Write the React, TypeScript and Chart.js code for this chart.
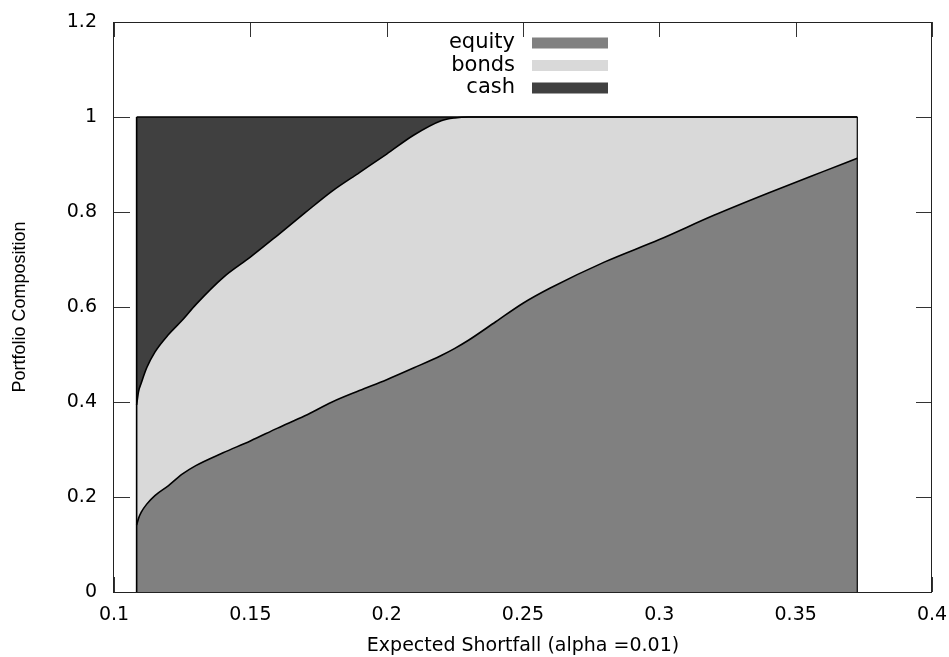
import React, { useEffect, useRef } from "react";
import { Chart, registerables } from "chart.js";

Chart.register(...registerables);

// Expected shortfall (x) sample positions
const xs = [0.1083, 0.109, 0.11, 0.112, 0.115, 0.12, 0.125, 0.13, 0.14, 0.15, 0.16, 0.17, 0.18, 0.19, 0.2, 0.21, 0.22, 0.225, 0.23, 0.24, 0.25, 0.26, 0.28, 0.3, 0.32, 0.34, 0.36, 0.3726];
// Portfolio shares
const equity = [0.141, 0.155, 0.168, 0.185, 0.203, 0.224, 0.248, 0.266, 0.293, 0.318, 0.345, 0.371, 0.4, 0.424, 0.447, 0.472, 0.498, 0.513, 0.53, 0.569, 0.608, 0.64, 0.695, 0.742, 0.793, 0.84, 0.885, 0.913];
const bonds = [0.253, 0.267, 0.272, 0.287, 0.302, 0.318, 0.324, 0.339, 0.369, 0.387, 0.406, 0.427, 0.444, 0.459, 0.475, 0.49, 0.494, 0.485, 0.47, 0.431, 0.392, 0.36, 0.305, 0.258, 0.207, 0.16, 0.115, 0.087];
const cash = [0.606, 0.578, 0.56, 0.528, 0.495, 0.458, 0.428, 0.395, 0.338, 0.295, 0.249, 0.202, 0.156, 0.117, 0.078, 0.038, 0.008, 0.002, 0, 0, 0, 0, 0, 0, 0, 0, 0, 0];

const seriesLabels = ["equity", "bonds", "cash"];
const seriesColors = ["#808080", "#d9d9d9", "#404040"];

const xTickValues = [0.1, 0.15, 0.2, 0.25, 0.3, 0.35, 0.4];
const xTickLabels = ["0.1", "0.15", "0.2", "0.25", "0.3", "0.35", "0.4"];
const yTickValues = [0, 0.2, 0.4, 0.6, 0.8, 1, 1.2];
const yTickLabels = ["0", "0.2", "0.4", "0.6", "0.8", "1", "1.2"];

const xTitle = "Expected Shortfall (alpha =0.01)";
const yTitle = "Portfolio Composition";

const FONT = "'DejaVu Sans', sans-serif";

const ticksPlugin = {
  id: "gnuTicks",
  beforeDraw(chart: any) {
    const { ctx, chartArea, scales } = chart;
    const { left, right, top, bottom } = chartArea;
    ctx.save();
    ctx.strokeStyle = "#333333";
    ctx.lineWidth = 1;
    ctx.beginPath();
    xTickValues.forEach((v) => {
      const px = Math.round(scales.x.getPixelForValue(v)) + 0.5;
      ctx.moveTo(px, bottom);
      ctx.lineTo(px, bottom - 15);
      ctx.moveTo(px, top);
      ctx.lineTo(px, top + 15);
    });
    yTickValues.forEach((v) => {
      const py = Math.round(scales.y.getPixelForValue(v)) + 0.5;
      ctx.moveTo(left, py);
      ctx.lineTo(left + 16, py);
      ctx.moveTo(right, py);
      ctx.lineTo(right - 16, py);
    });
    ctx.stroke();
    ctx.restore();
  },
  afterDatasetsDraw(chart: any) {
    const { ctx, chartArea } = chart;
    const { left, right, top, bottom } = chartArea;
    ctx.save();
    ctx.strokeStyle = "#222222";
    ctx.lineWidth = 1;
    ctx.strokeRect(Math.round(left) - 0.5, Math.round(top) + 0.5, Math.round(right - left), Math.round(bottom - top));
    ctx.restore();
  },
  afterDraw(chart: any) {
    const { ctx } = chart;
    ctx.save();
    ctx.font = `21px ${FONT}`;
    ctx.textAlign = "right";
    ctx.textBaseline = "middle";
    ctx.fillStyle = "#000000";
    for (let i = 0; i < seriesLabels.length; i++) {
      const cy = 43 + i * 22.5;
      ctx.fillText(seriesLabels[i], 515, cy);
      ctx.fillStyle = seriesColors[i];
      ctx.fillRect(532, cy - 5.5, 76, 11);
      ctx.fillStyle = "#000000";
    }
    ctx.restore();
  },
};

const zeroPad = (scale: any) => {
  scale.paddingLeft = 0;
  scale.paddingRight = 0;
  scale.paddingTop = 0;
  scale.paddingBottom = 0;
};

export default function App() {
  const ref = useRef<HTMLCanvasElement | null>(null);

  useEffect(() => {
    if (!ref.current) return;
    const cum1 = xs.map((x, i) => ({ x, y: equity[i] }));
    const cum2 = xs.map((x, i) => ({ x, y: equity[i] + bonds[i] }));
    const cum3 = xs.map((x, i) => ({ x, y: equity[i] + bonds[i] + cash[i] }));
    const last = xs.length - 1;
    const lineCommon = {
      borderColor: "#000000",
      borderWidth: 1.6,
      pointRadius: 0,
      cubicInterpolationMode: "monotone" as const,
    };
    const chart = new Chart(ref.current, {
      type: "line",
      data: {
        datasets: [
          { label: seriesLabels[0], data: cum1, backgroundColor: seriesColors[0], fill: "origin", ...lineCommon },
          { label: seriesLabels[1], data: cum2, backgroundColor: seriesColors[1], fill: "-1", ...lineCommon },
          { label: seriesLabels[2], data: cum3, backgroundColor: seriesColors[2], fill: "-1", ...lineCommon },
          {
            label: "left edge",
            data: [{ x: xs[0], y: 0 }, { x: xs[0], y: cum3[0].y }],
            fill: false,
            borderColor: "#000000",
            borderWidth: 1.6,
            pointRadius: 0,
          },
          {
            label: "right edge",
            data: [{ x: xs[last], y: 0 }, { x: xs[last], y: cum3[last].y }],
            fill: false,
            borderColor: "#000000",
            borderWidth: 1.2,
            pointRadius: 0,
          },
        ],
      },
      options: {
        responsive: false,
        animation: false,
        devicePixelRatio: 1,
        layout: { padding: { top: 22, right: 17, left: 0, bottom: 0 } },
        plugins: {
          legend: { display: false },
          tooltip: { enabled: false },
          filler: { drawTime: "beforeDatasetsDraw" },
        },
        scales: {
          x: {
            type: "linear",
            min: 0.1,
            max: 0.4,
            grid: { display: false, drawTicks: false },
            border: { display: false },
            afterBuildTicks: (scale: any) => {
              scale.ticks = xTickValues.map((v) => ({ value: v }));
            },
            afterFit: (scale: any) => {
              scale.height = 65;
              zeroPad(scale);
            },
            ticks: {
              autoSkip: false,
              maxRotation: 0,
              padding: 12,
              color: "#000000",
              font: { family: FONT, size: 19 },
              callback: (_v: any, i: number) => xTickLabels[i],
            },
            title: {
              display: true,
              text: xTitle,
              color: "#000000",
              font: { family: FONT, size: 19, lineHeight: 1 },
              padding: { top: 0, bottom: 1 },
            },
          },
          y: {
            type: "linear",
            min: 0,
            max: 1.2,
            grid: { display: false, drawTicks: false },
            border: { display: false },
            afterBuildTicks: (scale: any) => {
              scale.ticks = yTickValues.map((v) => ({ value: v }));
            },
            afterFit: (scale: any) => {
              scale.width = 114;
              zeroPad(scale);
            },
            ticks: {
              autoSkip: false,
              padding: 17,
              color: "#000000",
              font: { family: FONT, size: 19 },
              callback: (_v: any, i: number) => yTickLabels[i],
            },
            title: {
              display: true,
              text: yTitle,
              color: "#000000",
              font: { family: "'Liberation Sans', Arial, sans-serif", size: 18, lineHeight: 1 },
              padding: { top: 11, bottom: 0 },
            },
          },
        },
      },
      plugins: [ticksPlugin],
    });
    return () => chart.destroy();
  }, []);

  return (
    <canvas
      ref={ref}
      width={949}
      height={657}
      style={{ position: "absolute", left: 0, top: 0, width: 949, height: 657 }}
    />
  );
}
